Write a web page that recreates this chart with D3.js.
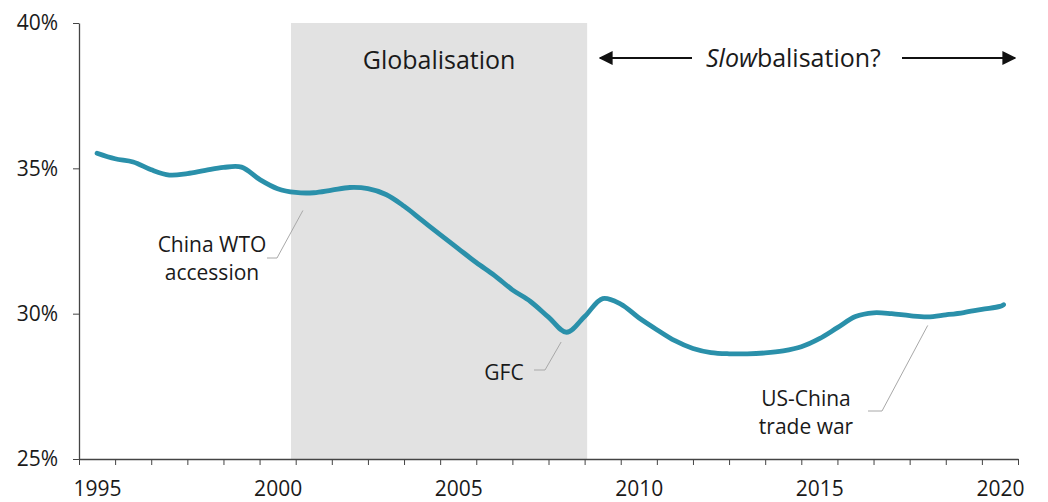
<!DOCTYPE html>
<html lang="en">

<head>
    <meta charset="utf-8" />
    <script src="https://cdnjs.cloudflare.com/ajax/libs/d3/7.8.5/d3.min.js"></script>
    <style type="text/css">
        body {
            margin: 0;
            background: #fff;
        }

        text {
            font-family: 'Open Sans', sans-serif;
            fill: #1a1a1a;
        }

        .axis path,
        .axis line {
            stroke: #444;
        }

        .axis text {
            font-size: 21px;
            fill: #1a1a1a;
        }
    </style>
</head>

<body>
    <div class="svg-box"></div>
    <script type="text/javascript">
        // Half-yearly readings of the series (share, %)
        var periods = [1995.0, 1995.5, 1996.0, 1996.5, 1997.0, 1997.5, 1998.0, 1998.5, 1999.0, 1999.5,
            2000.0, 2000.5, 2001.0, 2001.5, 2002.0, 2002.5, 2003.0, 2003.5, 2004.0, 2004.5,
            2005.0, 2005.5, 2006.0, 2006.5, 2007.0, 2007.5, 2008.0, 2008.5, 2009.0, 2009.5,
            2010.0, 2010.5, 2011.0, 2011.5, 2012.0, 2012.5, 2013.0, 2013.5, 2014.0, 2014.5,
            2015.0, 2015.5, 2016.0, 2016.5, 2017.0, 2017.5, 2018.0, 2018.5, 2019.0, 2019.5,
            2020.0, 2020.1];
        var share = [35.52, 35.33, 35.22, 34.95, 34.77, 34.82, 34.93, 35.03, 35.04, 34.62,
            34.30, 34.17, 34.16, 34.25, 34.34, 34.30, 34.10, 33.70, 33.21, 32.72,
            32.24, 31.76, 31.32, 30.82, 30.42, 29.88, 29.36, 29.90, 30.52, 30.33,
            29.86, 29.45, 29.07, 28.80, 28.66, 28.62, 28.62, 28.65, 28.72, 28.86,
            29.14, 29.52, 29.90, 30.03, 30.00, 29.93, 29.89, 29.96, 30.04, 30.15,
            30.25, 30.31];

        var yTicks = [25, 30, 35, 40];
        var yearLabels = [1995, 2000, 2005, 2010, 2015, 2020];
        var firstYear = 1995, lastYear = 2020;

        var bandStart = 2000.37, bandEnd = 2008.57;

        var annotations = [
            { lines: ['China WTO', 'accession'], at: 2000.7, value: 34.17 },
            { lines: ['GFC'], at: 2007.85, value: 29.3 },
            { lines: ['US-China', 'trade war'], at: 2018.0, value: 29.87 }
        ];

        // -- BEGIN D3 --
        let width = 1048;
        let height = 502;
        let margins = { top: 23, left: 79, right: 30, bottom: 43 };

        var svg = d3.select('div.svg-box')
            .append('svg')
            .attr('width', width)
            .attr('height', height);

        var x = d3.scaleLinear()
            .domain([firstYear - 0.5, lastYear + 0.5])
            .range([margins.left, width - margins.right]);

        var y = d3.scaleLinear()
            .domain([25, 40])
            .range([height - margins.bottom, margins.top]);

        // globalisation band
        svg.append('rect')
            .attr('x', x(bandStart))
            .attr('y', y(40))
            .attr('width', x(bandEnd) - x(bandStart))
            .attr('height', y(25) - y(40))
            .attr('fill', '#e2e2e2');

        svg.append('text')
            .attr('x', (x(bandStart) + x(bandEnd)) / 2)
            .attr('y', 69)
            .attr('text-anchor', 'middle')
            .style('font-size', '25px')
            .text('Globalisation');

        // slowbalisation arrows
        var defs = svg.append('defs');
        defs.append('marker')
            .attr('id', 'arrowhead')
            .attr('viewBox', '0 0 10 10')
            .attr('refX', 9)
            .attr('refY', 5)
            .attr('markerWidth', 7)
            .attr('markerHeight', 7)
            .attr('orient', 'auto-start-reverse')
            .append('path')
            .attr('d', 'M0,0 L10,5 L0,10 z')
            .attr('fill', '#111');

        var slow = svg.append('text')
            .attr('x', 706)
            .attr('y', 67)
            .style('font-size', '25px');
        slow.append('tspan').style('font-style', 'italic').text('Slow');
        slow.append('tspan').text('balisation?');

        svg.append('line')
            .attr('x1', 692).attr('x2', 600)
            .attr('y1', 58).attr('y2', 58)
            .attr('stroke', '#111').attr('stroke-width', 2)
            .attr('marker-end', 'url(#arrowhead)');
        svg.append('line')
            .attr('x1', 902).attr('x2', 1015)
            .attr('y1', 58).attr('y2', 58)
            .attr('stroke', '#111').attr('stroke-width', 2)
            .attr('marker-end', 'url(#arrowhead)');

        // axes
        var boundaries = d3.range(firstYear - 0.5, lastYear + 1, 1);

        svg.append('g')
            .attr('class', 'axis')
            .attr('transform', 'translate(0,' + y(25) + ')')
            .call(d3.axisBottom(x).tickValues(boundaries).tickFormat('').tickSize(6).tickSizeOuter(0))
            .call(g => g.select('.domain').attr('stroke-width', 1.3));

        svg.append('g')
            .attr('class', 'axis')
            .attr('transform', 'translate(0,' + y(25) + ')')
            .call(d3.axisBottom(x).tickValues(yearLabels).tickFormat(d3.format('d')).tickSize(0).tickPadding(22))
            .call(g => g.select('.domain').remove());

        svg.append('g')
            .attr('class', 'axis')
            .attr('transform', 'translate(' + margins.left + ',0)')
            .call(d3.axisLeft(y).tickValues(yTicks).tickFormat(d => d + '%').tickSize(6).tickSizeOuter(0).tickPadding(15))
            .call(g => g.select('.domain').attr('stroke-width', 1.3));

        // the series
        var line = d3.line()
            .x(function (d, i) { return x(periods[i]) })
            .y(function (d) { return y(d) })
            .curve(d3.curveCatmullRom.alpha(0.5));

        svg.append('path')
            .datum(share)
            .attr('d', line)
            .attr('fill', 'none')
            .attr('stroke', '#2a90aa')
            .attr('stroke-width', 4.8)
            .attr('stroke-linecap', 'round');

        // annotations with leader lines
        var labelSpots = [
            { tx: 212, ty: 252, lx: 267, ly: 258, kx: 277, gap: 18 },
            { tx: 504, ty: 380, lx: 534, ly: 370, kx: 545, gap: 8 },
            { tx: 806, ty: 406, lx: 868, ly: 411, kx: 882, gap: 8 }
        ];

        annotations.forEach(function (a, i) {
            var s = labelSpots[i];
            var t = svg.append('text')
                .attr('x', s.tx)
                .attr('y', s.ty)
                .attr('text-anchor', 'middle')
                .style('font-size', '21px');
            a.lines.forEach(function (l, j) {
                t.append('tspan')
                    .attr('x', s.tx)
                    .attr('dy', j == 0 ? 0 : 28)
                    .text(l);
            });
            svg.append('polyline')
                .attr('points', [[s.lx, s.ly], [s.kx, s.ly], [x(a.at), y(a.value) + s.gap]].join(' '))
                .attr('fill', 'none')
                .attr('stroke', '#a8a8a8')
                .attr('stroke-width', 1);
        });
        // -- END D3 --
    </script>
</body>

</html>
